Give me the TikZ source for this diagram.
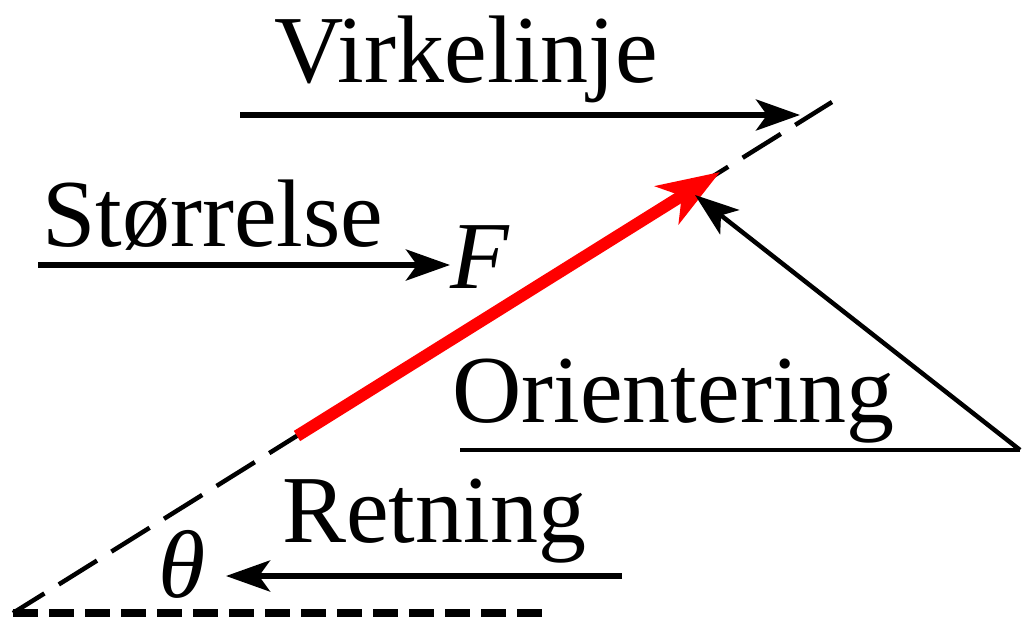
\documentclass[tikz,border=0pt]{standalone}
\usepackage{fontspec}
\setmainfont{Liberation Serif}
\usetikzlibrary{arrows.meta}

\tikzset{
  lbl/.style={inner sep=0pt, anchor=base west, font=\fontsize{96}{110}\selectfont},
  blk/.style={line width=5.5pt, -{Stealth[length=44pt,width=31pt,inset=11pt]}},
  redvec/.style={red, line width=12pt, -{Stealth[length=62pt,width=44pt,inset=17pt]}}
}

\begin{document}
\begin{tikzpicture}[x=1pt, y=-1pt]
\useasboundingbox (0,0) rectangle (1024,623);
% line of action and reference line:
\coordinate (orig) at (13,613);
\coordinate (top) at (832,102);
\coordinate (hend) at (550,613);
\draw[line width=4.5pt, dash pattern=on 45pt off 17pt, dash phase=8pt] (orig) -- (top);
\draw[line width=7.5pt, dash pattern=on 25pt off 11pt] (orig) -- (hend);
% force vector:
\coordinate (tail) at (297,436);
\coordinate (tip) at (720,172);
\draw[redvec] (tail) -- (tip);
% labels:
\node[lbl] (virk) at (274,83) {Virkelinje};
\node[lbl] (stor) at (42,246) {Størrelse};
\node[lbl] (F) at (450,288) {\textit{F}};
\node[lbl] (orient) at (452,422) {Orientering};
\node[lbl] (retn) at (282,542) {Retning};
\node[lbl] (theta) at (158,597) {\textit{θ}};
% pointers:
\coordinate (v0) at (240,115);
\coordinate (v1) at (800,115);
\draw[blk] (v0) -- (v1);
\coordinate (s0) at (38,265);
\draw[blk] (s0) -- (F.west |- s0);
\coordinate (o0) at (460,450);
\coordinate (o1) at (1020,450);
\coordinate (o2) at (695,195);
\draw[line width=4.5pt] (o0) -- (o1);
\draw[blk, line width=4.5pt] (o1) -- (o2);
\coordinate (r0) at (622,576);
\coordinate (r1) at (226,576);
\draw[blk] (r0) -- (r1);
\end{tikzpicture}
\end{document}
